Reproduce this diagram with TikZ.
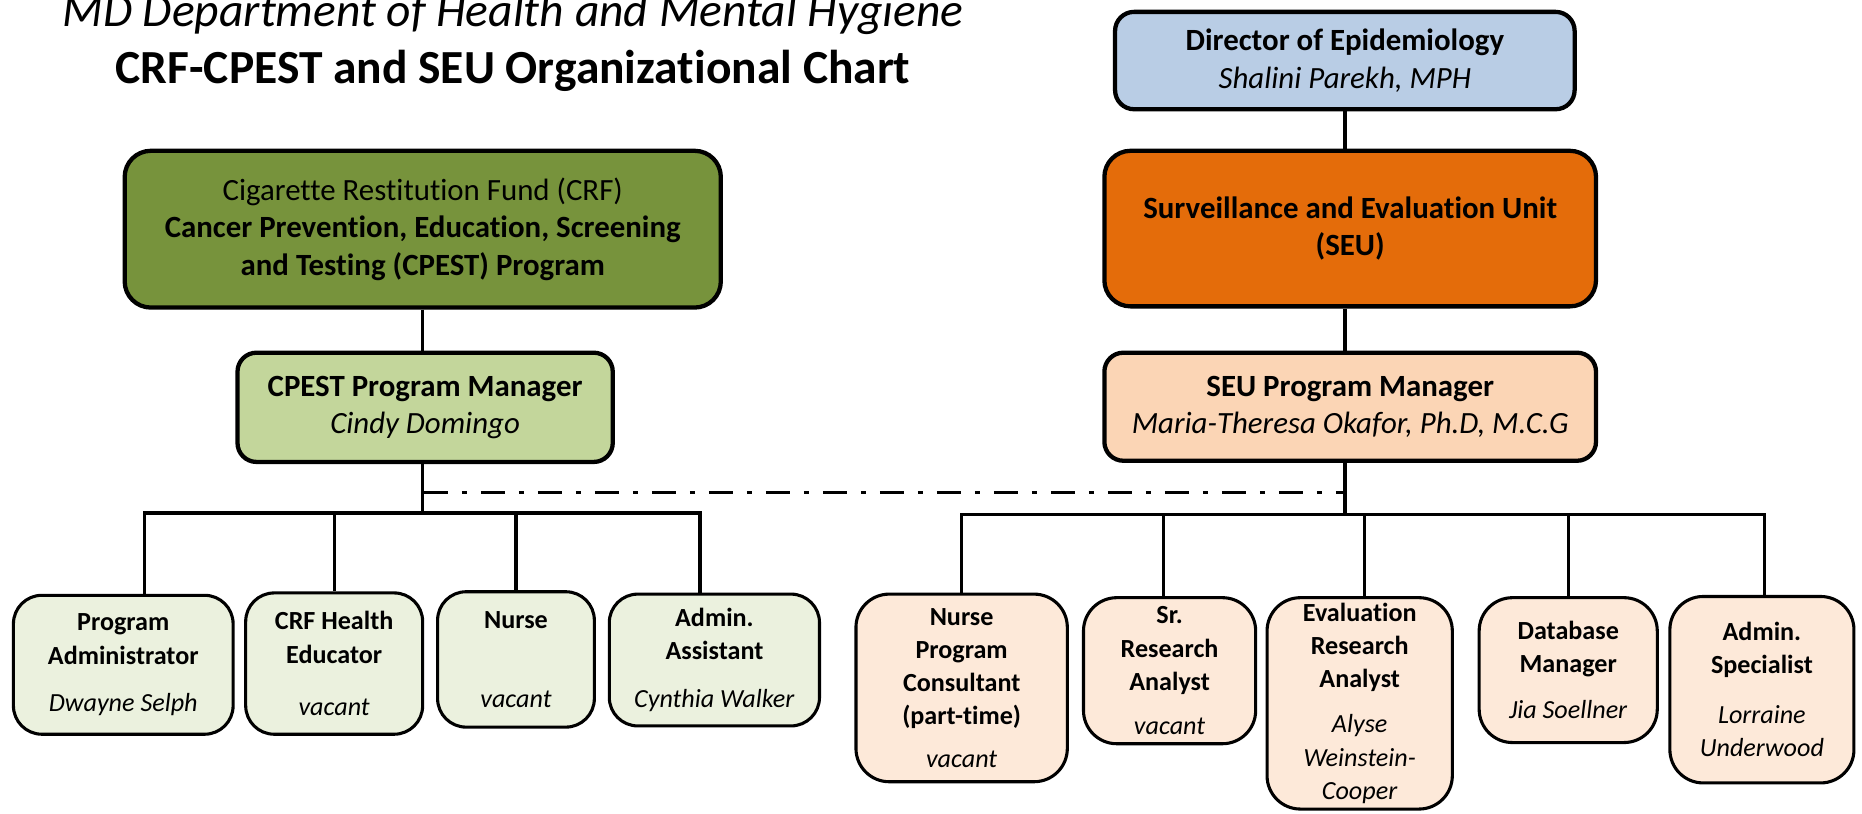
\documentclass[tikz,border=0pt]{standalone}
\usepackage{fontspec}
\setmainfont{Carlito}[Ligatures={NoCommon,NoContextual}]
\usetikzlibrary{positioning}
\definecolor{dirblue}{RGB}{185,205,229}
\definecolor{seuorange}{RGB}{228,108,10}
\definecolor{crfgreen}{RGB}{119,147,60}
\definecolor{pmgreen}{RGB}{195,214,155}
\definecolor{pmpeach}{RGB}{251,213,181}
\definecolor{stgreen}{RGB}{235,241,222}
\definecolor{stpeach}{RGB}{253,233,217}
\tikzset{
x=1pt, y=-1pt, % one unit per pixel, y runs downwards
unit/.style={draw, line width=3.6pt, rounded corners=22pt, align=center, inner sep=0pt, font=\fontsize{26}{31.5}\selectfont}, % the big boxes
manager/.style={unit, rounded corners=16pt}, % program managers
staff/.style={draw, line width=2.6pt, rounded corners=24pt, align=center, inner sep=0pt, font=\fontsize{22}{28}\selectfont}, % bottom row
link/.style={line width=2.8pt}, % connectors
}

\begin{document}
\begin{tikzpicture}
\useasboundingbox (0,0) rectangle (1568,685);

\node[anchor=base, font=\fontsize{40}{48}\selectfont\itshape] (t1) at (432,22) {MD Department of Health and Mental Hygiene};
\node[anchor=base, font=\fontsize{40}{48}\selectfont\bfseries] (t2) at (432,70) {CRF-CPEST and SEU Organizational Chart};

\node[unit, fill=dirblue, minimum width=387pt, minimum height=82pt, rounded corners=16pt] (dir) at (1132.5,51) {\textbf{Director of Epidemiology}\\\textit{Shalini Parekh, MPH}};
\node[unit, fill=seuorange, minimum width=414pt, minimum height=131pt] (seu) at (1137,192.5) {\textbf{Surveillance and Evaluation Unit}\\\textbf{(SEU)}};
\node[unit, fill=crfgreen, minimum width=502pt, minimum height=132pt] (crf) at (356,193) {Cigarette Restitution Fund (CRF)\\\textbf{Cancer Prevention, Education, Screening}\\\textbf{and Testing (CPEST) Program}};
\node[manager, fill=pmgreen, minimum width=316pt, minimum height=92pt] (cpm) at (358,343) {\textbf{CPEST Program Manager}\\\textit{Cindy Domingo}};
\node[manager, fill=pmpeach, minimum width=414pt, minimum height=91pt] (spm) at (1137,342.5) {\textbf{SEU Program Manager}\\\textit{Maria-Theresa Okafor, Ph.D, M.C.G}};

% CPEST staff
\node[staff, fill=stgreen, minimum width=185pt, minimum height=117pt, anchor=north west] (pa) at (10,500) {\textbf{Program}\\\textbf{Administrator}\\[12pt]\textit{Dwayne Selph}};
\node[staff, fill=stgreen, minimum width=149pt, minimum height=119pt, right=8pt of pa.north east, anchor=north west, yshift=2pt] (he) {\textbf{CRF Health}\\\textbf{Educator}\\[16pt]\textit{vacant}};
\node[staff, fill=stgreen, minimum width=132pt, minimum height=114pt, right=10pt of he.north east, anchor=north west, yshift=1pt] (nu) {\textbf{Nurse}\\[39pt]\textit{vacant}};
\node[staff, fill=stgreen, minimum width=177pt, minimum height=111pt, right=10pt of nu.north east, anchor=north west, yshift=-2pt] (aa) {\textbf{Admin.}\\\textbf{Assistant}\\[12pt]\textit{Cynthia Walker}};

% SEU staff
\node[staff, fill=stpeach, minimum width=178pt, minimum height=158pt, rounded corners=28pt, anchor=north west] (npc) at (719.5,499) {\textbf{Nurse}\\\textbf{Program}\\\textbf{Consultant}\\\textbf{(part-time)}\\[8pt]\textit{vacant}};
\node[staff, fill=stpeach, minimum width=145pt, minimum height=123pt, rounded corners=28pt, right=11pt of npc.north east, anchor=north west, yshift=-3pt] (sra) {\textbf{Sr.}\\\textbf{Research}\\\textbf{Analyst}\\[9pt]\textit{vacant}};
\node[staff, fill=stpeach, minimum width=156pt, minimum height=178pt, rounded corners=28pt, right=7pt of sra.north east, anchor=north west] (era) {\textbf{Evaluation}\\\textbf{Research}\\\textbf{Analyst}\\[10pt]\textit{Alyse}\\\textit{Weinstein-}\\\textit{Cooper}};
\node[staff, fill=stpeach, minimum width=150pt, minimum height=122pt, rounded corners=28pt, right=20pt of era.north east, anchor=north west] (dbm) {\textbf{Database}\\\textbf{Manager}\\[11pt]\textit{Jia Soellner}};
\node[staff, fill=stpeach, minimum width=155pt, minimum height=157pt, rounded corners=28pt, right=8pt of dbm.north east, anchor=north west, yshift=1pt] (as) {\textbf{Admin.}\\\textbf{Specialist}\\[14pt]\textit{Lorraine}\\\textit{Underwood}};

\coordinate (lbar) at (357,432);
\coordinate (rbar) at (1132,433);
\coordinate (dash) at (357,415);

\draw[link] (dir.south) -- (dir.south |- seu.north)
            (dir.south |- seu.south) -- (dir.south |- spm.north)
            (dir.south |- spm.south) -- (dir.south |- rbar)
            (crf.south) -- (crf.south |- cpm.north)
            (crf.south |- cpm.south) -- (crf.south |- lbar);
\draw[link, dash pattern=on 20pt off 12pt on 4pt off 12pt] (dash) -- (dir.south |- dash);

\draw[link] ([xshift=18pt]pa.north) |- (lbar) -| ([xshift=-12pt]aa.north)
            (he.north) -- (he.north |- lbar)
            (nu.north) -- (nu.north |- lbar);
\draw[link] (npc.north) |- (rbar) -| ([xshift=2pt]as.north)
            ([xshift=-5pt]sra.north) -- ([xshift=-5pt]sra.north |- rbar)
            ([xshift=4pt]era.north) -- ([xshift=4pt]era.north |- rbar)
            (dbm.north) -- (dbm.north |- rbar);
\end{tikzpicture}
\end{document}
